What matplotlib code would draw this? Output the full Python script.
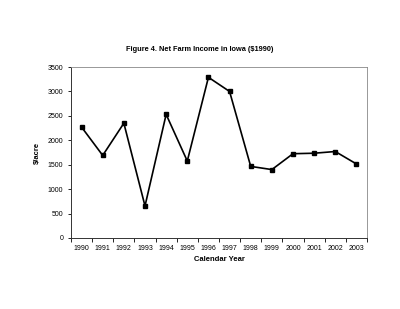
import matplotlib
matplotlib.use("Agg")
import matplotlib.pyplot as plt
import numpy as np

years = ["1990", "1991", "1992", "1993", "1994", "1995", "1996",
         "1997", "1998", "1999", "2000", "2001", "2002", "2003"]
income = [2270, 1690, 2350, 655, 2530, 1575, 3290,
          3000, 1465, 1400, 1725, 1735, 1770, 1515]
yticks = [0, 500, 1000, 1500, 2000, 2500, 3000, 3500]

plt.rcParams['font.family'] = ['Liberation Sans', 'DejaVu Sans']

fig = plt.figure(figsize=(4.0, 3.09), dpi=100)
ax = fig.add_axes([0.1775, 0.23, 0.74, 0.553])

x = np.arange(len(years))
ax.plot(x, income, color='black', lw=1.2, marker='s', ms=3.5)

ax.set_xlim(-0.5, len(years) - 0.5)
ax.set_ylim(0, 3500)
ax.set_yticks(yticks)
ax.set_yticklabels([str(v) for v in yticks], fontsize=5)

# category axis: ticks between categories, labels centred
ax.set_xticks(np.arange(-0.5, len(years), 1.0))
ax.set_xticklabels([])
ax.set_xticks(x, minor=True)
ax.set_xticklabels(years, minor=True, fontsize=5)
ax.tick_params(axis='x', which='minor', length=0, pad=5)
ax.tick_params(axis='x', which='major', length=3, width=0.6, direction='out')
ax.tick_params(axis='y', length=2.5, width=0.6, direction='out', pad=3)

for s in ['left', 'bottom']:
    ax.spines[s].set_linewidth(0.7)
    ax.spines[s].set_color('#333333')
for s in ['top', 'right']:
    ax.spines[s].set_linewidth(0.6)
    ax.spines[s].set_color('#888888')

ax.set_xlabel('Calendar Year', fontsize=5.5, fontweight='bold', labelpad=3)
ax.set_ylabel('$/acre', fontsize=5.5, fontweight='bold', labelpad=5)
fig.text(0.5, 0.835, 'Figure 4. Net Farm Income in Iowa ($1990)',
         ha='center', fontsize=5.3, fontweight='bold')

fig.savefig('out.png', dpi=100, facecolor='white')
